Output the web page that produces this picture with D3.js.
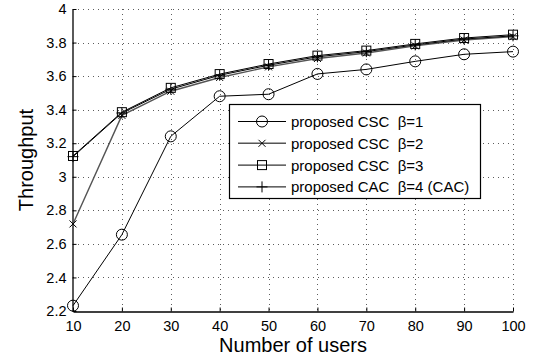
<!DOCTYPE html>
<html>
<script src="https://d3js.org/d3.v7.min.js"></script>
<style>
  body { margin: 0; background: white; }
  text { font-family: "Liberation Sans", Arial, sans-serif; fill: black; white-space: pre; }
</style>
<body>
<svg width="539" height="358"></svg>
<script>
// data
var users = [10, 20, 30, 40, 50, 60, 70, 80, 90, 100];
var csc1 = [2.232, 2.655, 3.241, 3.480, 3.492, 3.613, 3.640, 3.688, 3.730, 3.746];
var csc2 = [2.719, 3.366, 3.510, 3.592, 3.655, 3.705, 3.738, 3.780, 3.815, 3.835];
var csc3 = [3.124, 3.385, 3.530, 3.612, 3.672, 3.722, 3.752, 3.792, 3.827, 3.847];
var cac4 = [3.120, 3.380, 3.522, 3.605, 3.665, 3.715, 3.746, 3.786, 3.821, 3.840];
var seriesNames = ["proposed CSC  \u03b2=1", "proposed CSC  \u03b2=2", "proposed CSC  \u03b2=3", "proposed CAC  \u03b2=4 (CAC)"];
var xTicks = [10, 20, 30, 40, 50, 60, 70, 80, 90, 100];
var yTicks = [2.2, 2.4, 2.6, 2.8, 3, 3.2, 3.4, 3.6, 3.8, 4];

var series = [
  {name: seriesNames[0], values: csc1, marker: "circle", color: "#000", width: 1},
  {name: seriesNames[1], values: csc2, marker: "x", color: "#555", width: 1.4},
  {name: seriesNames[2], values: csc3, marker: "square", color: "#000", width: 1},
  {name: seriesNames[3], values: cac4, marker: "plus", color: "#000", width: 1}
];

var svg = d3.select("svg");
var x = d3.scaleLinear().domain([10, 100]).range([73, 513]);
var y = d3.scaleLinear().domain([2.2, 4]).range([311, 9]);

// dotted grid
var grid = svg.append("g");
grid.selectAll(".gx").data(xTicks.slice(1)).enter().append("line")
  .attr("x1", d => Math.round(x(d)) + 0.5).attr("x2", d => Math.round(x(d)) + 0.5)
  .attr("y1", y(4)).attr("y2", y(2.2))
  .attr("stroke", "#333").attr("stroke-width", 0.8).attr("stroke-dasharray", "1,4");
grid.selectAll(".gy").data(yTicks.slice(1)).enter().append("line")
  .attr("y1", d => Math.round(y(d)) + 0.5).attr("y2", d => Math.round(y(d)) + 0.5)
  .attr("x1", x(10)).attr("x2", x(100))
  .attr("stroke", "#333").attr("stroke-width", 0.8).attr("stroke-dasharray", "1,4");

// axes
var xAxis = svg.append("g")
  .attr("transform", "translate(0," + (y(2.2) + 0.5) + ")")
  .call(d3.axisBottom(x).tickValues(xTicks).tickSizeInner(-4).tickSizeOuter(0).tickPadding(9));
var yAxis = svg.append("g")
  .attr("transform", "translate(" + (x(10) - 0.5) + ",0)")
  .call(d3.axisLeft(y).tickValues(yTicks).tickSizeInner(-4).tickSizeOuter(0).tickPadding(6).tickFormat(d3.format("~g")));
[xAxis, yAxis].forEach(function(a) {
  a.select(".domain").attr("stroke", "#000").attr("stroke-width", 1.3);
  a.selectAll(".tick line").attr("stroke", "#000");
  a.selectAll(".tick text").style("font-family", "Liberation Sans, Arial, sans-serif").style("font-size", "14.5px");
});

// axis titles
svg.append("text")
  .attr("x", (x(10) + x(100)) / 2).attr("y", 352)
  .attr("text-anchor", "middle").style("font-size", "20px")
  .text("Number of users");
svg.append("text")
  .attr("transform", "translate(33," + (y(3.1)) + ") rotate(-90)")
  .attr("text-anchor", "middle").style("font-size", "20px")
  .text("Throughput");

function drawMarker(g, type, cx, cy, color) {
  if (type == "circle") {
    g.append("circle").attr("cx", cx).attr("cy", cy).attr("r", 5.5)
      .attr("fill", "none").attr("stroke", color).attr("stroke-width", 1);
  } else if (type == "square") {
    g.append("rect").attr("x", cx - 4.5).attr("y", cy - 4.5).attr("width", 9).attr("height", 9)
      .attr("fill", "none").attr("stroke", color).attr("stroke-width", 1);
  } else if (type == "x") {
    g.append("path").attr("d", "M" + (cx - 3.5) + "," + (cy - 3.5) + "L" + (cx + 3.5) + "," + (cy + 3.5) +
      "M" + (cx - 3.5) + "," + (cy + 3.5) + "L" + (cx + 3.5) + "," + (cy - 3.5))
      .attr("stroke", "#000").attr("stroke-width", 1);
  } else if (type == "plus") {
    g.append("path").attr("d", "M" + (cx - 5.5) + "," + cy + "L" + (cx + 5.5) + "," + cy +
      "M" + cx + "," + (cy - 5.5) + "L" + cx + "," + (cy + 5.5))
      .attr("stroke", color).attr("stroke-width", 1);
  }
}

var line = d3.line().x((d, i) => x(users[i])).y(d => y(d));
var plot = svg.append("g");
series.forEach(function(s) {
  plot.append("path").datum(s.values).attr("d", line)
    .attr("fill", "none").attr("stroke", s.color).attr("stroke-width", s.width);
  var mg = plot.append("g");
  s.values.forEach(function(v, i) { drawMarker(mg, s.marker, x(users[i]), y(v), s.color); });
});

// legend
var lg = svg.append("g");
lg.append("rect").attr("x", 229.5).attr("y", 104.5).attr("width", 251).attr("height", 94)
  .attr("fill", "white").attr("stroke", "#000").attr("stroke-width", 1.2);
series.forEach(function(s, i) {
  var ly = 121.5 + i * 21.8;
  lg.append("line").attr("x1", 238).attr("x2", 286).attr("y1", ly).attr("y2", ly)
    .attr("stroke", s.color).attr("stroke-width", s.width);
  drawMarker(lg, s.marker, 262, ly, s.color);
  lg.append("text").attr("x", 291).attr("y", ly + 5.5).style("font-size", "15px").text(s.name);
});
</script>
</body>
</html>
